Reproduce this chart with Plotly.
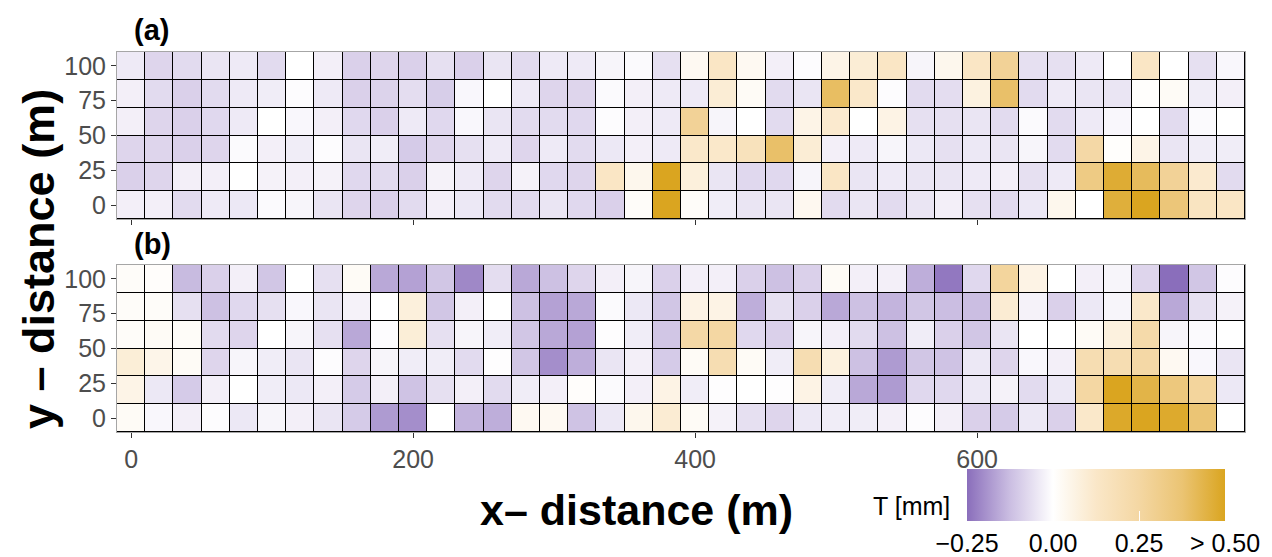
import plotly.graph_objects as go

# grid cell centres (m)
x_dist = list(range(0, 800, 20))
y_dist = [0, 20, 40, 60, 80, 100]

# T [mm] per cell, panel (a); one list per row, from y = 0 up to y = 100
T_a_y0 = [-0.03, -0.03, -0.07, -0.04, -0.045, -0.01, -0.02, -0.05, -0.08, -0.09,
          -0.07, -0.03, -0.045, -0.07, -0.07, -0.05, -0.075, -0.09, 0.014, 0.5,
          0.014, -0.035, -0.05, -0.05, 0.035, -0.07, -0.05, -0.07, -0.05, -0.03,
          -0.06, -0.07, -0.045, 0.04, 0.0, 0.46, 0.5, 0.36, 0.15, 0.135]
T_a_y20 = [-0.09, -0.08, -0.03, -0.03, 0.0, -0.025, -0.03, -0.025, -0.075, -0.07,
           -0.09, -0.025, -0.04, -0.08, -0.025, -0.075, -0.08, 0.135, 0.04, 0.5,
           0.08, -0.05, -0.075, -0.075, -0.02, 0.135, -0.05, -0.04, -0.05, -0.05,
           -0.04, -0.03, -0.06, -0.04, 0.33, 0.47, 0.41, 0.28, 0.11, -0.07]
T_a_y40 = [-0.08, -0.08, -0.09, -0.08, -0.01, -0.03, -0.035, -0.005, -0.05, -0.035,
           -0.1, -0.08, -0.06, -0.04, -0.08, -0.04, -0.07, -0.045, -0.03, -0.04,
           0.12, 0.12, 0.165, 0.39, 0.095, -0.03, -0.04, -0.02, -0.045, -0.06,
           -0.045, -0.05, -0.02, -0.07, 0.24, 0.007, 0.055, -0.05, -0.035, -0.035]
T_a_y60 = [-0.03, -0.08, -0.09, -0.075, -0.04, 0.0, -0.015, -0.03, -0.075, -0.09,
           -0.04, -0.075, -0.015, -0.05, -0.07, -0.07, -0.075, -0.005, -0.03, -0.04,
           0.28, -0.02, 0.0, -0.07, 0.055, 0.11, 0.0, 0.06, -0.06, -0.06,
           -0.05, -0.07, -0.01, -0.07, -0.04, -0.015, 0.0, -0.07, -0.01, 0.0]
T_a_y80 = [-0.03, -0.07, -0.09, -0.07, -0.04, -0.035, -0.005, -0.04, -0.09, -0.085,
           -0.065, -0.095, -0.015, 0.0, -0.04, -0.08, -0.08, -0.01, -0.03, -0.04,
           -0.04, 0.095, 0.02, -0.07, -0.05, 0.4, 0.12, -0.005, -0.07, -0.065,
           0.07, 0.39, -0.07, -0.04, -0.05, -0.05, 0.007, 0.02, -0.035, -0.03]
T_a_y100 = [-0.04, -0.08, -0.07, -0.05, -0.04, -0.07, 0.0, -0.03, -0.09, -0.08,
            -0.09, -0.06, -0.09, -0.05, -0.07, -0.04, -0.04, -0.02, -0.01, -0.06,
            0.03, 0.135, 0.03, -0.03, -0.005, 0.055, 0.095, 0.135, -0.02, 0.04,
            0.135, 0.28, -0.06, -0.06, -0.04, 0.0, 0.135, 0.0, -0.06, -0.015]

# T [mm] per cell, panel (b)
T_b_y0 = [0.02, -0.015, -0.03, -0.005, -0.045, -0.02, -0.03, -0.05, -0.1, -0.18,
          -0.2, 0.0, -0.14, -0.15, 0.03, 0.03, -0.115, -0.045, 0.04, 0.1,
          0.02, -0.025, -0.06, -0.08, -0.045, -0.035, -0.035, -0.03, -0.005, -0.03,
          -0.09, -0.1, -0.045, -0.09, 0.12, 0.485, 0.5, 0.48, 0.37, 0.0]
T_b_y20 = [0.055, -0.045, -0.1, -0.03, 0.0, -0.035, -0.045, -0.03, -0.1, -0.03,
           -0.115, -0.06, -0.03, -0.07, -0.035, -0.03, 0.01, -0.01, -0.03, 0.06,
           -0.035, -0.003, 0.0, -0.003, 0.06, -0.035, -0.16, -0.18, -0.075, -0.075,
           -0.045, -0.025, -0.07, -0.045, 0.25, 0.5, 0.44, 0.35, 0.265, -0.045]
T_b_y40 = [0.09, 0.05, 0.02, -0.08, -0.02, -0.035, -0.05, -0.005, -0.08, -0.02,
           -0.035, -0.035, -0.07, -0.003, -0.11, -0.2, -0.15, -0.05, -0.03, -0.1,
           0.02, 0.2, 0.02, -0.035, 0.2, 0.075, -0.12, -0.18, -0.11, -0.115,
           -0.045, -0.08, -0.015, -0.03, 0.2, 0.2, 0.24, 0.03, -0.015, -0.05]
T_b_y60 = [0.014, 0.02, 0.017, -0.07, -0.08, 0.0, -0.02, -0.06, -0.16, -0.005,
           0.09, -0.06, -0.02, -0.035, -0.11, -0.16, -0.17, -0.003, -0.035, -0.11,
           0.24, 0.25, -0.075, -0.09, -0.02, -0.03, -0.07, -0.12, -0.035, -0.09,
           -0.11, -0.05, 0.0, 0.0, 0.02, 0.075, 0.225, -0.02, -0.01, 0.0]
T_b_y80 = [0.014, 0.014, -0.06, -0.12, -0.075, -0.06, -0.015, -0.05, -0.025, 0.0,
           0.08, -0.11, -0.03, 0.0, -0.12, -0.17, -0.16, -0.01, -0.045, -0.11,
           0.06, 0.06, -0.15, -0.06, -0.09, -0.16, -0.12, -0.14, -0.11, -0.125,
           -0.125, 0.1, -0.025, -0.09, -0.045, -0.02, 0.12, -0.16, -0.06, -0.025]
T_b_y100 = [0.014, 0.01, -0.13, -0.09, -0.03, -0.11, 0.0, -0.06, 0.02, -0.16,
            -0.17, -0.11, -0.21, -0.065, -0.16, -0.12, -0.08, -0.03, -0.02, -0.09,
            -0.03, -0.03, -0.09, -0.12, -0.09, 0.02, -0.03, -0.03, -0.15, -0.235,
            -0.075, 0.265, 0.06, 0.0, -0.03, -0.02, -0.08, -0.25, -0.11, -0.005]

T_a = [T_a_y0, T_a_y20, T_a_y40, T_a_y60, T_a_y80, T_a_y100]
T_b = [T_b_y0, T_b_y20, T_b_y40, T_b_y60, T_b_y80, T_b_y100]

# colour bar
T_min, T_max = -0.25, 0.5
cbar_tickvals = [-0.25, 0.0, 0.25, 0.5]
cbar_ticktext = ["\u22120.25", "0.00", "0.25", "> 0.50"]

y_tickvals = [0, 25, 50, 75, 100]
x_tickvals = [0, 200, 400, 600]

W, H = 1272, 557
ML, MR, MT, MB = 117, 27, 52, 125
PW, PH = W - ML - MR, H - MT - MB


def px(xp):
    return (xp - ML) / PW


def py(yp):
    return (H - MB - yp) / PH


colorscale = [
    [0.0, "#8a6ebb"],
    [1 / 6, "#cbbee2"],
    [1 / 3, "#ffffff"],
    [0.5, "#fae7c8"],
    [2 / 3, "#f4d7a3"],
    [5 / 6, "#ebc473"],
    [1.0, "#daa520"],
]

font_family = "Liberation Sans, Arial, Helvetica, sans-serif"

fig = go.Figure()
fig.add_trace(go.Heatmap(x=x_dist, y=y_dist, z=T_a, coloraxis="coloraxis",
                         xgap=1, ygap=1, xaxis="x", yaxis="y", hoverongaps=False))
fig.add_trace(go.Heatmap(x=x_dist, y=y_dist, z=T_b, coloraxis="coloraxis",
                         xgap=1, ygap=1, xaxis="x2", yaxis="y2", hoverongaps=False))

axis_common = dict(
    showgrid=False, zeroline=False, showline=True, mirror=True,
    linecolor="#a6a6a6", linewidth=1,
    ticks="outside", ticklen=5, tickwidth=1.3, tickcolor="#333333",
    tickfont=dict(family=font_family, size=25, color="#4d4d4d"),
)

fig.update_layout(
    width=W, height=H,
    margin=dict(l=ML, r=MR, t=MT, b=MB, autoexpand=False),
    paper_bgcolor="white",
    plot_bgcolor="black",
    font=dict(family=font_family),
    xaxis=dict(domain=[0, 1], anchor="y", range=[-10, 790], tickvals=x_tickvals,
               showticklabels=False, **axis_common),
    yaxis=dict(domain=[py(219), 1], anchor="x", range=[-10, 110], tickvals=y_tickvals,
               **axis_common),
    xaxis2=dict(domain=[0, 1], anchor="y2", range=[-10, 790], tickvals=x_tickvals,
                **axis_common),
    yaxis2=dict(domain=[0, py(265)], anchor="x2", range=[-10, 110], tickvals=y_tickvals,
                **axis_common),
    coloraxis=dict(
        cmin=T_min, cmax=T_max, colorscale=colorscale,
        colorbar=dict(
            orientation="h",
            xref="paper", yref="paper",
            x=px(967), xanchor="left",
            y=py(469), yanchor="top",
            len=258, lenmode="pixels", thickness=52,
            xpad=0, ypad=0, outlinewidth=0,
            tickvals=cbar_tickvals, ticktext=cbar_ticktext,
            ticks="inside", ticklen=10, tickcolor="white", tickwidth=1,
            tickfont=dict(family=font_family, size=25, color="black"),
        ),
    ),
    annotations=[
        dict(text="<b>(a)</b>", xref="paper", yref="paper", x=px(132), y=py(30),
             xanchor="left", yanchor="middle", showarrow=False,
             font=dict(family=font_family, size=29, color="black")),
        dict(text="<b>(b)</b>", xref="paper", yref="paper", x=px(132), y=py(244),
             xanchor="left", yanchor="middle", showarrow=False,
             font=dict(family=font_family, size=29, color="black")),
        dict(text="<b>x\u2013 distance (m)</b>", xref="paper", yref="paper",
             x=px(636), y=py(510), xanchor="center", yanchor="middle", showarrow=False,
             font=dict(family=font_family, size=43, color="black")),
        dict(text="<b>y \u2013 distance (m)</b>", xref="paper", yref="paper",
             x=px(38), y=py(259), xanchor="center", yanchor="middle", showarrow=False,
             textangle=-90,
             font=dict(family=font_family, size=45, color="black")),
        dict(text="T [mm]", xref="paper", yref="paper",
             x=px(952), y=py(506), xanchor="right", yanchor="middle", showarrow=False,
             font=dict(family=font_family, size=25, color="black")),
    ],
)

fig.write_html("out.html")
